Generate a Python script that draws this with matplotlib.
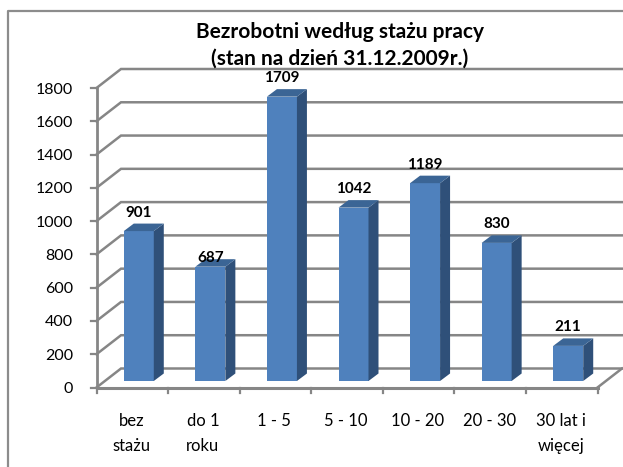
import matplotlib
matplotlib.use("Agg")
import matplotlib.pyplot as plt
from matplotlib.patches import Polygon

categories = ["bez\nstażu", "do 1\nroku", "1 - 5", "5 - 10", "10 - 20", "20 - 30", "30 lat i\nwięcej"]
values = [901, 687, 1709, 1042, 1189, 830, 211]
y_ticks = list(range(0, 1801, 200))
title = "Bezrobotni według stażu pracy\n(stan na dzień 31.12.2009r.)"

W, H = 623, 467
plt.rcParams["font.family"] = ["Lato", "DejaVu Sans"]
fig = plt.figure(figsize=(W / 100, H / 100), dpi=100, facecolor="white")

# Axes = front plane of the 3D box
L, R, B, T = 96.5, 597.5, 387.5, 88.0
ax = fig.add_axes([L / W, 1 - B / H, (R - L) / W, (B - T) / H])
ax.set_xlim(0, 7)
ax.set_ylim(0, 1800)
ax.axis("off")

px = 7 / (R - L)
py = 1800 / (B - T)
GRID = "#868686"

# chart-area border
fig.add_artist(plt.Line2D([8 / W, 8 / W, 1], [0, 1 - 11 / H, 1 - 11 / H], color="#8C8C8C", lw=1.6))

dx, dy = 24.5 * px, 19 * py
for v in y_ticks:
    ax.plot([0, dx, dx + 7], [v, v + dy, v + dy], color=GRID, lw=1.8, clip_on=False, zorder=1,
            solid_joinstyle="miter")
# floor
ax.plot([7, 7 + dx], [0, dy], color=GRID, lw=1.8, clip_on=False, zorder=1)
# front axes
ax.plot([0, 0], [0, 1800], color=GRID, lw=2, clip_on=False, zorder=2)
ax.plot([0, 7], [0, 0], color=GRID, lw=2.2, clip_on=False, zorder=2)
for v in y_ticks:
    ax.plot([-6 * px, 0], [v, v], color=GRID, lw=1.6, clip_on=False, zorder=2)
    ax.text(-23.5 * px, v - 1.5 * py, str(v), ha="right", va="center", fontsize=11.5, color="black")
for i in range(8):
    ax.plot([i, i], [0, -5 * py], color=GRID, lw=1.6, clip_on=False, zorder=2)

# bars
base = 6.5 * py
bw = 30 / (R - L) * 7
bx, by = 10 * px, 7.5 * py
for i, (c, v) in enumerate(zip(categories, values)):
    xc = i + 0.5 + 6.5 * px
    x0, x1 = xc - bw / 2, xc + bw / 2
    top = base + v
    ax.bar(xc, v, width=bw, bottom=base, color="#4F81BD", linewidth=0, zorder=3)
    ax.add_patch(Polygon([(x1, base), (x1 + bx, base + by), (x1 + bx, top + by), (x1, top)],
                         closed=True, fc="#2F5079", ec="none", zorder=3, clip_on=False))
    ax.add_patch(Polygon([(x0, top), (x0 + bx, top + by), (x1 + bx, top + by), (x1, top)],
                         closed=True, fc="#3B6595", ec="none", zorder=3, clip_on=False))
    lift = 8.5 if v == 687 else 18.5  # the 687 label sits lower in the original
    ax.text(xc, top + lift * py, str(v), ha="center", va="center",
            fontsize=11, fontweight="bold", color="black", zorder=5, clip_on=False)
    ax.text(i + 0.5 - 1 * px, -26 * py, c, ha="center", va="top", fontsize=12, color="black",
            linespacing=1.65, clip_on=False)

fig.text(340 / W, 1 - 45 / H, title, ha="center", va="center", fontsize=15, fontweight="bold",
         color="black", linespacing=1.4)

fig.savefig("out.png", dpi=100)
